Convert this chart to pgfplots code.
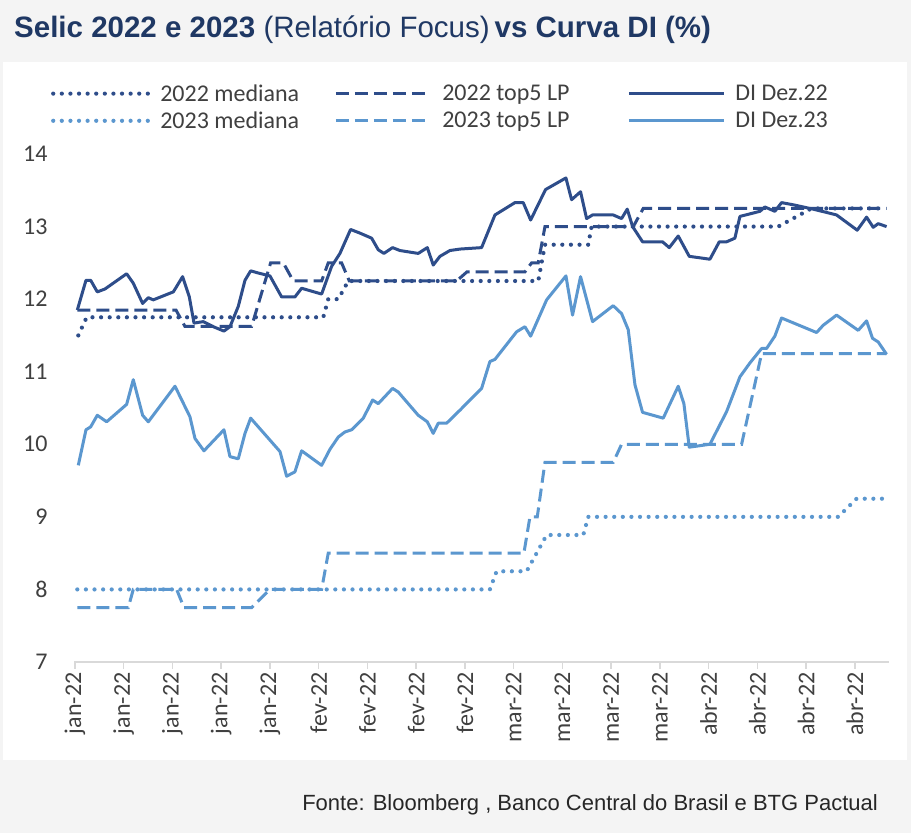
\documentclass[border=0pt]{standalone}
\usepackage{pgfplots}
\pgfplotsset{compat=1.18}
\usepackage{fontspec}
\setmainfont{Carlito}
\newfontfamily\arial{Liberation Sans}
\definecolor{darkS}{HTML}{2E4D8A}
\definecolor{lightS}{HTML}{5B97CF}
\definecolor{titleC}{HTML}{1F3864}
\definecolor{tickC}{HTML}{404040}
\definecolor{axC}{HTML}{D9D9D9}
\definecolor{bgC}{HTML}{F4F4F4}
\begin{document}
\begin{tikzpicture}
\fill[bgC] (0pt,0pt) rectangle (911pt,833pt);
\fill[white] (3pt,73pt) rectangle (907pt,771pt);
\node[anchor=west, text=titleC, font=\arial\fontsize{29.5}{34}\selectfont, inner sep=0pt] at (14pt,803pt)
  {\textbf{Selic 2022 e 2023} (Relatório Focus)\,\textbf{vs Curva DI (\%)}};
\node[anchor=east, text=black!85, font=\arial\fontsize{22}{26}\selectfont, inner sep=0pt] at (878pt,28pt)
  {Fonte: Bloomberg , Banco Central do Brasil e BTG Pactual};
\begin{axis}[
  at={(74pt,171pt)}, anchor=south west,
  scale only axis, width=815pt, height=508pt,
  xmin=-0.1, xmax=83.5, ymin=7, ymax=14,
  ytick={7,8,...,14},
  xtick={0,5,...,80},
  xticklabels={jan-22,jan-22,jan-22,jan-22,jan-22,fev-22,fev-22,fev-22,fev-22,mar-22,mar-22,mar-22,mar-22,abr-22,abr-22,abr-22,abr-22},
  axis x line*=bottom, axis y line*=left,
  x axis line style={draw=axC, line width=2pt, -},
  y axis line style={draw=none},
  xtick style={draw=axC, line width=1.5pt},
  ytick style={draw=none},
  tick align=outside, major tick length=7pt,
  /pgf/number format/assume math mode=true,
  tick label style={font=\fontsize{24}{28}\selectfont, text=tickC},
  xticklabel style={rotate=90, anchor=east},
  yticklabel style={xshift=-16pt},
  legend columns=3,
  legend cell align=left,
  legend style={at={(axis description cs:-0.032,1.143)}, anchor=north west, draw=none, fill=none,
    column sep=10pt, row sep=7pt, font=\fontsize{24}{28}\selectfont, text=tickC,
    nodes={inner xsep=0pt, inner ysep=1pt}},
  legend image code/.code={\draw[#1] (0pt,0pt) -- (95pt,0pt);},
  clip=false,
]
\addplot[darkS, line width=4.2pt, line cap=round, dash pattern=on 0pt off 8.6pt] coordinates {
(0.34,11.5)(1.20,11.75)(25.47,11.75)(25.98,12.0)(27.01,12.0)(28.03,12.25)(47.52,12.25)(48.21,12.75)(52.65,12.75)(52.99,13.0)(72.14,13.0)(75.55,13.25)(83.25,13.25)};
\addlegendentry{\makebox[164pt][l]{2022 mediana}}
\addplot[darkS, line width=3pt, dash pattern=on 13pt off 6pt] coordinates {
(0.24,11.85)(10.36,11.85)(11.28,11.625)(18.12,11.625)(20.07,12.5)(21.37,12.5)(22.39,12.25)(25.30,12.25)(25.98,12.5)(27.35,12.5)(28.14,12.25)(39.15,12.25)(40.2,12.375)(46.15,12.375)(46.84,12.5)(47.52,12.5)(48.21,13.0)(57.27,13.0)(58.29,13.25)(83.25,13.25)};
\addlegendentry{\makebox[175pt][l]{2022 top5 LP}}
\addplot[darkS, line width=3pt, line join=round] coordinates {
(0.24,11.85)(1.13,12.26)(1.61,12.26)(2.29,12.10)(3.08,12.14)(5.30,12.35)(5.98,12.22)(6.94,11.94)(7.52,12.02)(8.03,11.99)(10.09,12.10)(11.04,12.31)(11.73,12.03)(12.21,11.67)(13.16,11.69)(14.19,11.62)(15.28,11.56)(15.90,11.62)(16.75,11.90)(17.44,12.26)(18.02,12.39)(18.80,12.36)(20.00,12.32)(21.20,12.03)(22.56,12.03)(23.25,12.15)(25.30,12.07)(26.32,12.45)(27.18,12.63)(28.27,12.96)(29.23,12.91)(30.43,12.84)(31.11,12.68)(31.69,12.63)(32.58,12.71)(33.33,12.67)(35.21,12.63)(36.14,12.71)(36.75,12.47)(37.44,12.59)(38.46,12.67)(39.49,12.69)(41.71,12.71)(43.08,13.16)(45.13,13.33)(45.98,13.33)(46.74,13.09)(48.27,13.51)(50.36,13.67)(50.94,13.37)(51.86,13.48)(52.48,13.11)(53.09,13.16)(55.21,13.16)(56.07,13.11)(56.65,13.24)(57.20,13.00)(58.22,12.79)(60.27,12.79)(60.96,12.71)(61.88,12.87)(63.01,12.59)(65.13,12.55)(66.09,12.79)(66.84,12.79)(67.69,12.84)(68.21,13.14)(70.26,13.21)(70.77,13.27)(71.79,13.21)(72.48,13.33)(73.68,13.30)(75.73,13.24)(78.12,13.16)(80.24,12.95)(81.20,13.13)(81.88,12.99)(82.39,13.04)(83.25,13.00)};
\addlegendentry{DI Dez.22}
\addplot[lightS, line width=4.2pt, line cap=round, dash pattern=on 0pt off 8.6pt] coordinates {
(0.24,8.0)(42.56,8.0)(43.25,8.25)(46.33,8.25)(48.38,8.75)(52.14,8.75)(52.65,9.0)(78.29,9.0)(80.17,9.25)(83.25,9.25)};
\addlegendentry{2023 mediana}
\addplot[lightS, line width=3pt, dash pattern=on 13pt off 6pt] coordinates {
(0.24,7.75)(5.47,7.75)(5.98,8.0)(10.43,8.0)(11.18,7.75)(18.12,7.75)(20.0,8.0)(25.30,8.0)(25.98,8.5)(46.05,8.5)(46.67,9.0)(47.42,9.0)(48.21,9.75)(55.21,9.75)(56.07,10.0)(68.38,10.0)(70.43,11.25)(83.25,11.25)};
\addlegendentry{2023 top5 LP}
\addplot[lightS, line width=3pt, line join=round] coordinates {
(0.34,9.71)(1.13,10.20)(1.61,10.24)(2.29,10.40)(3.25,10.31)(5.30,10.55)(5.98,10.89)(6.94,10.40)(7.52,10.31)(10.26,10.80)(11.79,10.38)(12.31,10.08)(13.23,9.91)(15.28,10.20)(15.90,9.83)(16.75,9.80)(17.44,10.15)(18.02,10.36)(21.03,9.90)(21.71,9.56)(22.56,9.62)(23.25,9.91)(25.30,9.71)(26.15,9.93)(27.01,10.10)(27.69,10.17)(28.38,10.20)(29.57,10.36)(30.53,10.61)(31.11,10.56)(32.58,10.77)(33.16,10.72)(35.21,10.40)(36.14,10.31)(36.75,10.15)(37.26,10.29)(38.12,10.29)(39.49,10.47)(41.71,10.77)(42.56,11.14)(43.08,11.17)(45.30,11.55)(46.15,11.62)(46.74,11.49)(48.38,11.99)(50.36,12.32)(51.04,11.78)(51.86,12.31)(53.09,11.69)(55.21,11.91)(56.07,11.80)(56.75,11.58)(57.44,10.82)(58.22,10.44)(60.34,10.36)(61.88,10.80)(62.46,10.56)(63.01,9.96)(65.13,10.00)(66.84,10.45)(68.21,10.93)(69.23,11.12)(70.43,11.32)(70.94,11.32)(71.79,11.49)(72.48,11.74)(76.07,11.54)(76.75,11.64)(78.12,11.78)(80.34,11.57)(81.20,11.70)(81.81,11.46)(82.39,11.41)(83.25,11.24)};
\addlegendentry{DI Dez.23}
\end{axis}
\end{tikzpicture}
\end{document}
